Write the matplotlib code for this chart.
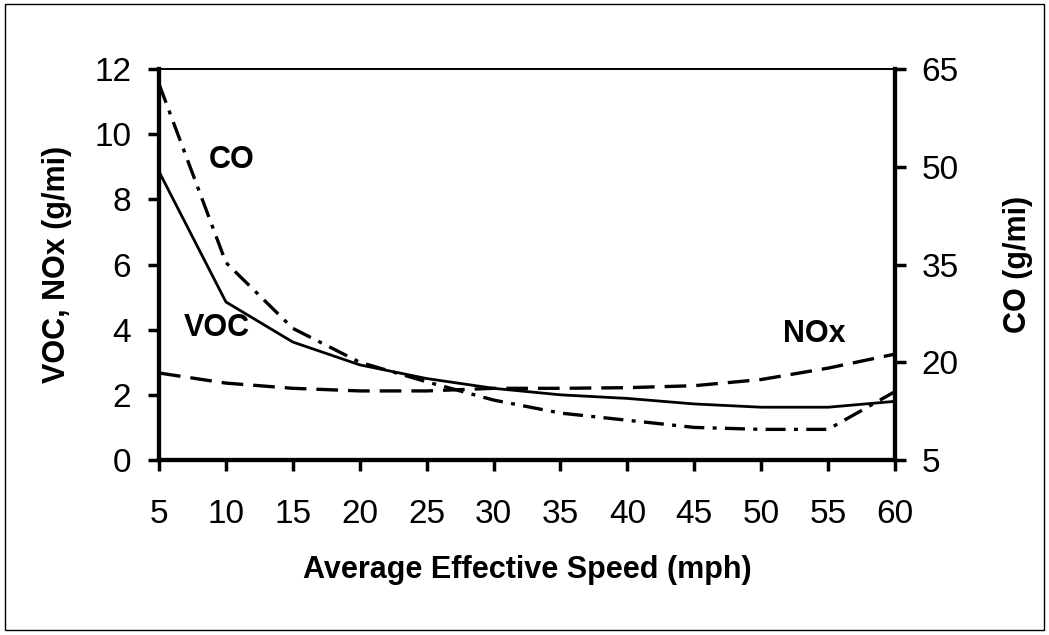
import matplotlib
matplotlib.use('Agg')
import matplotlib.pyplot as plt
from matplotlib.patches import Rectangle

plt.rcParams['font.family'] = ['Liberation Sans', 'DejaVu Sans']

# data
speed = [5, 10, 15, 20, 25, 30, 35, 40, 45, 50, 55, 60]
voc = [8.85, 4.85, 3.62, 2.92, 2.5, 2.2, 2.0, 1.89, 1.72, 1.62, 1.62, 1.8]
nox = [2.67, 2.36, 2.2, 2.12, 2.12, 2.2, 2.2, 2.22, 2.28, 2.47, 2.82, 3.25]
co = [62.7, 35.3, 25.2, 20.0, 17.0, 14.2, 12.2, 11.1, 10.0, 9.7, 9.7, 15.5]

fig = plt.figure(figsize=(10.49, 6.35), dpi=100)
ax = fig.add_axes([0.1516, 0.2756, 0.7016, 0.6157])
ax2 = ax.twinx()

ax.plot(speed, voc, color='black', lw=2.0, ls='-')
ax.plot(speed, nox, color='black', lw=2.4, ls=(0, (6.5, 3)))
ax2.plot(speed, co, color='black', lw=2.4, ls=(0, (6, 2.5, 1.2, 2.5)))

ax.set_xlim(5, 60)
ax.set_ylim(0, 12)
ax2.set_ylim(5, 65)
ax.set_xticks(range(5, 61, 5))
ax.set_yticks(range(0, 13, 2))
ax2.set_yticks([5, 20, 35, 50, 65])

for a in (ax, ax2):
    a.tick_params(axis='both', labelsize=24, width=2.5, length=8, direction='out')
    for s in ('left', 'right', 'bottom'):
        a.spines[s].set_linewidth(3)
    a.spines['top'].set_linewidth(1.2)
ax.tick_params(axis='y', pad=12)
ax2.tick_params(axis='y', pad=11)
ax.tick_params(axis='x', pad=20)

ax.set_xlabel('Average Effective Speed (mph)', fontsize=22, fontweight='bold', labelpad=18)
ax.set_ylabel('VOC, NOx (g/mi)', fontsize=22, fontweight='bold', labelpad=16)
ax2.set_ylabel('CO (g/mi)', fontsize=22, fontweight='bold', labelpad=32)

ax.text(10.4, 9.2, 'CO', fontsize=22, fontweight='bold', ha='center', va='center')
ax.text(9.3, 4.05, 'VOC', fontsize=22, fontweight='bold', ha='center', va='center')
ax.text(54, 3.86, 'NOx', fontsize=22, fontweight='bold', ha='center', va='center')

fig.patches.append(Rectangle((0.005, 0.008), 0.99, 0.985, transform=fig.transFigure,
                             fill=False, edgecolor='black', lw=1))

fig.savefig('out.png', dpi=100)
